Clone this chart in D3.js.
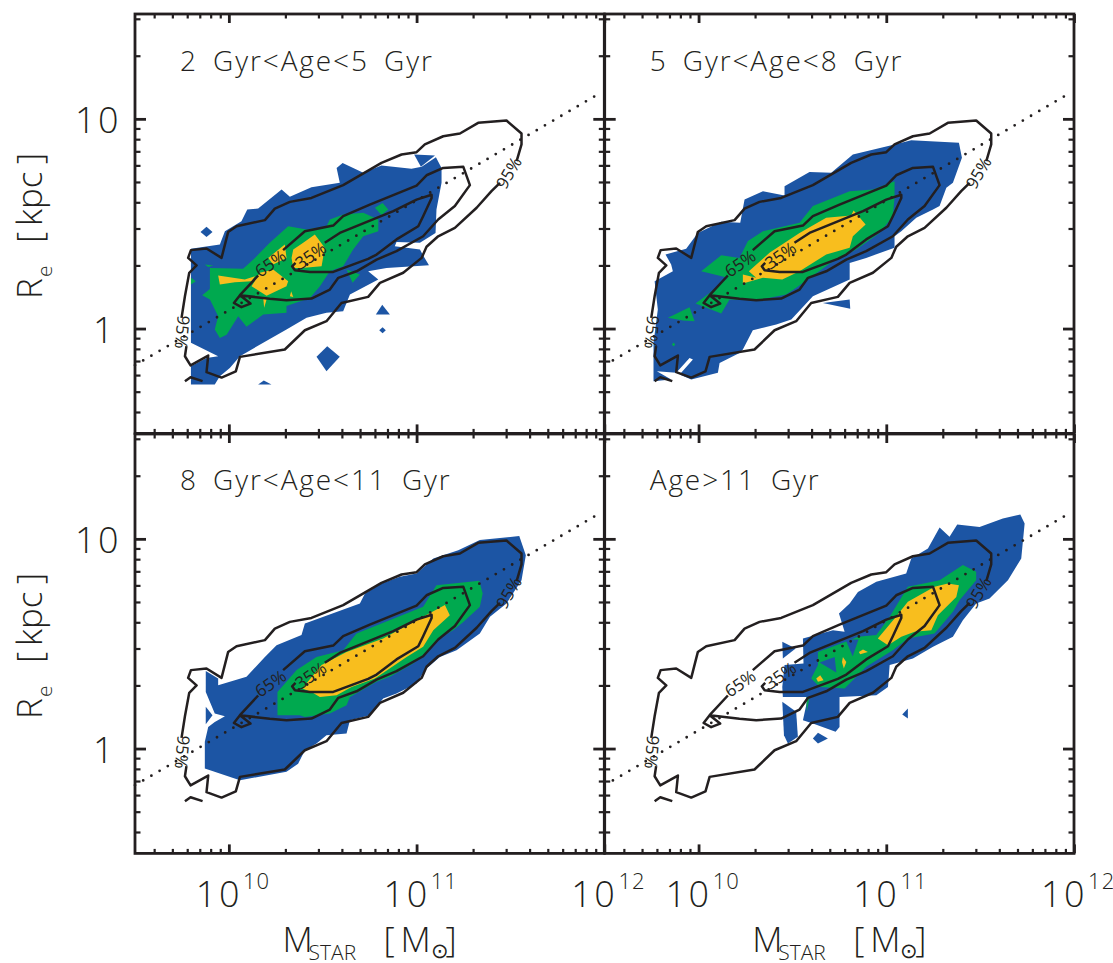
<!DOCTYPE html>
<html>
<head>
<meta charset="utf-8">
<script src="https://cdn.jsdelivr.net/npm/d3@7"></script>
<style>
  body { margin: 0; background: #fff; overflow: hidden; }
  text { font-family: "Open Sans", sans-serif; font-weight: 300; fill: #231f20; }
</style>
</head>
<body>
<script>
// all polygon vertices are [log10 Mstar, log10 Re]
const contour95 = [[9.748,.051],[9.766,.154],[9.789,.266],[9.828,.301],[9.783,.337],[9.798,.374],[9.881,.382],[9.961,.337],[9.996,.460],[10.041,.488],[10.192,.517],[10.245,.572],[10.325,.604],[10.440,.623],[10.609,.684],[10.813,.790],[10.920,.830],[11.000,.841],[11.044,.878],[11.142,.917],[11.231,.930],[11.328,.981],[11.479,.992],[11.559,.930],[11.559,.878],[11.533,.798]];
const contour95b = [[11.444,.695],[11.399,.655],[11.320,.576],[11.204,.480],[11.115,.440],[11.053,.390],[11.027,.337],[10.929,.266],[10.805,.218],[10.742,.151],[10.600,.122],[10.520,.035],[10.405,-.008],[10.298,-.100],[10.059,-.135],[10.037,-.204],[9.961,-.234],[9.881,-.208],[9.890,-.129],[9.796,-.176],[9.766,-.132],[9.774,-.084]];
const contour95tail = [[9.766,-.251],[9.796,-.232],[9.860,-.251]];
const contour65 = [[10.289,.374],[10.405,.464],[10.556,.491],[10.609,.536],[10.751,.591],[11.000,.682],[11.053,.731],[11.142,.766],[11.249,.771],[11.284,.684],[11.204,.584],[11.115,.520],[11.035,.440],[10.893,.369],[10.787,.329],[10.680,.273],[10.583,.242],[10.538,.186],[10.440,.143],[10.307,.135],[10.218,.142],[10.059,.159],[10.115,.119],[10.067,.102],[10.027,.122],[10.059,.159],[10.156,.253]];
const contour35 = [[10.511,.409],[10.591,.456],[10.876,.560],[11.000,.615],[11.080,.638],[11.080,.623],[11.035,.536],[11.009,.488],[10.893,.425],[10.787,.353],[10.742,.332],[10.556,.270],[10.432,.270],[10.352,.278],[10.337,.297],[10.355,.313]];
const contourLabels = ["65%", "35%", "95%", "95%"];
const contourLabelPos = [[10.222,.310],[10.437,.348],[11.492,.743],[9.751,-.017]];
const contourLabelAngle = [-35, -35, -60, 95];

// dotted relation, end points
const relMass = [9.5, 11.97];
const relSize = [-.175, 1.119];

const titles = ["2 Gyr<Age<5 Gyr", "5 Gyr<Age<8 Gyr", "8 Gyr<Age<11 Gyr", "Age>11 Gyr"];

const blue1 = [
  [[9.798,.380],[9.952,.401],[9.979,.464],[10.067,.512],[10.098,.568],[10.156,.572],[10.281,.663],[10.325,.628],[10.440,.674],[10.591,.695],[10.574,.766],[10.606,.790],[10.716,.743],[10.813,.778],[10.973,.762],[11.027,.771],[11.103,.817],[11.133,.766],[11.133,.695],[11.106,.568],[11.101,.456],[11.018,.409],[10.893,.413],[10.884,.393],[11.018,.377],[11.035,.348],[11.066,.302],[10.840,.289],[10.742,.273],[10.796,.234],[10.645,.162],[10.609,.083],[10.520,.075],[10.414,.051],[10.307,-.005],[10.183,-.068],[10.059,-.132],[10.005,-.188],[9.952,-.227],[9.925,-.267],[9.798,-.267],[9.798,-.180],[9.881,-.140],[9.943,-.132],[9.798,-.068]],
  [[10.987,.830],[11.098,.825],[11.023,.771]],
  [[9.849,.461],[9.881,.485],[9.913,.461],[9.881,.436]],
  [[10.783,.067],[10.817,.114],[10.858,.067]],
  [[10.801,-.008],[10.819,.006],[10.836,-.008],[10.819,-.022]],
  [[10.467,-.135],[10.524,-.084],[10.591,-.135],[10.520,-.204]],
  [[10.156,-.267],[10.186,-.248],[10.227,-.267]]
];
const green1 = [
  [[9.858,.159],[9.899,.189],[9.899,.289],[10.076,.285],[10.139,.337],[10.218,.409],[10.316,.488],[10.414,.472],[10.520,.488],[10.538,.520],[10.609,.544],[10.716,.552],[10.796,.520],[10.796,.464],[10.716,.440],[10.662,.377],[10.609,.297],[10.538,.273],[10.485,.202],[10.432,.146],[10.307,.107],[10.307,.075],[10.183,.067],[10.094,.008],[10.050,.059],[9.988,-.029],[9.952,-.045],[9.925,-.005],[9.943,.059],[9.899,.138]],
  [[10.778,.576],[10.819,.599],[10.849,.568],[10.813,.541]],
  [[10.627,.281],[10.698,.258],[10.659,.218]],
  [[9.798,.242],[9.824,.226],[9.798,.210]],
  [[9.872,.305],[9.917,.301],[9.890,.293]]
];
const yellow1 = [
  [[10.121,.202],[10.165,.266],[10.236,.281],[10.316,.226],[10.307,.202],[10.201,.157]],
  [[9.943,.253],[10.085,.234],[10.139,.250],[10.121,.226],[10.032,.221],[9.952,.210]],
  [[10.210,.337],[10.298,.401],[10.307,.337],[10.236,.305]],
  [[10.343,.377],[10.396,.409],[10.458,.448],[10.511,.385],[10.494,.297],[10.387,.289],[10.343,.289],[10.334,.337]],
  [[10.325,.154],[10.343,.151],[10.332,.178]],
  [[10.183,.146],[10.201,.138],[10.188,.099]]
];

const blue2 = [
  [[9.824,.353],[9.934,.380],[9.996,.456],[10.121,.509],[10.222,.504],[10.245,.615],[10.343,.655],[10.458,.634],[10.458,.679],[10.591,.746],[10.707,.743],[10.822,.830],[11.044,.878],[11.133,.898],[11.387,.886],[11.403,.814],[11.355,.695],[11.320,.671],[11.284,.584],[11.249,.568],[11.160,.528],[11.080,.464],[11.044,.440],[11.044,.385],[10.893,.337],[10.805,.313],[10.805,.234],[10.609,.154],[10.494,.043],[10.414,.019],[10.289,-.008],[10.236,-.100],[10.218,-.116],[10.112,-.164],[10.103,-.211],[9.961,-.243],[9.899,-.219],[9.970,-.148],[9.952,-.140],[9.881,-.211],[9.778,-.204],[9.854,-.243],[9.760,-.251],[9.760,-.068],[9.783,.091],[9.766,.226],[9.863,.273],[9.854,.305]],
  [[10.662,.122],[10.805,.138],[10.808,.095]]
];
const green2 = [
  [[10.014,.273],[10.121,.350],[10.218,.337],[10.263,.417],[10.343,.464],[10.538,.504],[10.609,.584],[10.805,.655],[10.929,.663],[11.044,.703],[11.044,.623],[11.035,.536],[10.964,.456],[10.840,.377],[10.716,.321],[10.618,.258],[10.520,.194],[10.467,.162],[10.307,.135],[10.165,.138],[10.121,.072],[9.984,.119],[10.059,.170],[10.156,.242]],
  [[9.837,.051],[9.952,.102],[9.979,.035],[9.917,.038]],
  [[9.858,-.076],[9.867,-.067],[9.876,-.076],[9.867,-.086]]
];
const yellow2 = [
  [[10.268,.273],[10.378,.361],[10.538,.456],[10.680,.528],[10.813,.539],[10.826,.563],[10.890,.496],[10.822,.440],[10.805,.385],[10.680,.353],[10.538,.273],[10.446,.234],[10.343,.242],[10.236,.215],[10.236,.258],[10.307,.242]]
];

const blue3 = [
  [[9.877,.370],[9.943,.334],[9.943,.302],[10.094,.342],[10.192,.437],[10.254,.493],[10.387,.541],[10.405,.596],[10.698,.692],[10.725,.739],[10.813,.787],[10.911,.819],[11.000,.835],[11.089,.906],[11.222,.946],[11.337,.994],[11.547,1.013],[11.582,.922],[11.559,.803],[11.479,.692],[11.391,.628],[11.337,.549],[11.213,.469],[11.124,.437],[11.044,.374],[11.000,.310],[10.893,.262],[10.822,.239],[10.751,.159],[10.645,.135],[10.627,.072],[10.520,.064],[10.467,.024],[10.405,-.008],[10.369,-.072],[10.307,-.111],[10.059,-.151],[9.872,-.095],[9.872,.032],[9.890,.103],[9.925,.127],[9.979,.154],[9.925,.167],[9.877,.270]],
  [[9.877,.199],[9.913,.159],[9.877,.116]]
];
const green3 = [
  [[10.259,.159],[10.259,.270],[10.361,.374],[10.467,.437],[10.609,.469],[10.680,.549],[11.035,.676],[11.106,.779],[11.334,.800],[11.352,.739],[11.337,.676],[11.249,.604],[11.195,.564],[11.115,.525],[11.053,.461],[10.982,.405],[10.858,.342],[10.787,.318],[10.645,.246],[10.627,.207],[10.538,.167],[10.405,.151],[10.378,.159]]
];
const yellow3 = [
  [[10.391,.286],[10.494,.398],[10.627,.461],[10.822,.525],[11.000,.612],[11.151,.684],[11.177,.636],[11.089,.564],[11.035,.485],[10.947,.437],[10.778,.334],[10.654,.294],[10.574,.254],[10.485,.246],[10.440,.270]]
];

const blue4 = [
  [[10.446,.509],[10.517,.477],[10.449,.429]],
  [[10.556,.525],[10.716,.564],[10.778,.557],[10.748,.644],[10.805,.692],[10.849,.747],[10.947,.795],[11.106,.835],[11.133,.906],[11.222,.954],[11.284,1.054],[11.337,1.010],[11.378,1.068],[11.497,1.057],[11.621,1.097],[11.714,1.116],[11.737,1.073],[11.719,.906],[11.648,.803],[11.550,.716],[11.479,.692],[11.408,.612],[11.355,.533],[11.249,.485],[11.142,.429],[11.018,.398],[11.009,.294],[10.947,.254],[10.751,.246],[10.751,.103],[10.730,.080],[10.609,.119],[10.556,.135],[10.583,.246],[10.449,.246],[10.446,.294],[10.458,.398],[10.559,.405]],
  [[10.446,.223],[10.520,.175],[10.529,.056],[10.476,.024],[10.455,.064]],
  [[10.609,.048],[10.636,.075],[10.689,.048],[10.636,.024]],
  [[11.085,.162],[11.115,.191],[11.115,.143]]
];
const green4 = [
  [[10.600,.334],[10.636,.398],[10.636,.461],[10.805,.517],[10.849,.533],[10.947,.541],[11.018,.628],[11.115,.771],[11.284,.803],[11.408,.875],[11.479,.843],[11.479,.803],[11.391,.708],[11.355,.652],[11.257,.549],[11.115,.525],[11.035,.469],[10.893,.390],[10.778,.286],[10.645,.294]],
  [[10.574,.246],[10.591,.246],[10.577,.175]]
];
// patches of the lowest level showing through the green in the oldest bin
const holes4 = [
  [[10.645,.410],[10.725,.437],[10.734,.363]],
  [[10.783,.520],[10.852,.520],[10.821,.440]]
];
const yellow4 = [
  [[10.955,.525],[11.044,.620],[11.115,.700],[11.257,.771],[11.328,.787],[11.387,.779],[11.373,.723],[11.275,.636],[11.240,.564],[11.151,.557],[11.080,.533],[11.009,.493]],
  [[10.627,.334],[10.648,.350],[10.666,.326],[10.636,.318]],
  [[10.769,.437],[10.787,.413],[10.774,.382],[10.764,.413]],
  [[10.854,.461],[10.876,.472],[10.902,.461],[10.861,.450]]
];

const fills = [
  [blue1, green1, yellow1],
  [blue2, green2, yellow2],
  [blue3, green3, yellow3],
  [blue4, green4, holes4, yellow4]
];
const fillColors = [
  ["#1c55a4", "#00a94f", "#f8be1e"],
  ["#1c55a4", "#00a94f", "#f8be1e"],
  ["#1c55a4", "#00a94f", "#f8be1e"],
  ["#1c55a4", "#00a94f", "#1c55a4", "#f8be1e"]
];

const xMajor = [1e10, 1e11, 1e12];
const xMinor = [4e9,5e9,6e9,7e9,8e9,9e9,2e10,3e10,4e10,5e10,6e10,7e10,8e10,9e10,2e11,3e11,4e11,5e11,6e11,7e11,8e11,9e11];
const yMajor = [1, 10];
const yMinor = [.4,.5,.6,.7,.8,.9,2,3,4,5,6,7,8,9,20,30];

const ink = "#231f20";
const panelW = 469.3, panelH = 419.4;
const panelX = [135, 604.7];
const panelY = [14, 434];

const svg = d3.select("body").append("svg")
    .attr("width", 1113)
    .attr("height", 963);

const x = d3.scaleLog().domain([Math.pow(10, 9.5), 1e12]).range([0, panelW]);
const y = d3.scaleLog().domain([Math.pow(10, -.5), Math.pow(10, 1.5)]).range([panelH, 0]);

const toXY = d => [x(Math.pow(10, d[0])), y(Math.pow(10, d[1]))];
const line = d3.line();

titles.forEach((title, i) => {
    const col = i % 2, row = Math.floor(i / 2);
    const g = svg.append("g").attr("transform", `translate(${panelX[col]},${panelY[row]})`);

    // filled density levels
    fills[i].forEach((level, j) => {
        g.append("g").selectAll("path")
            .data(level)
            .enter().append("path")
            .attr("d", d => line(d.map(toXY)) + "Z")
            .attr("fill", fillColors[i][j]);
    });

    // dotted relation
    g.append("path")
        .attr("d", line([[relMass[0], relSize[0]], [relMass[1], relSize[1]]].map(toXY)))
        .attr("fill", "none")
        .attr("stroke", ink)
        .attr("stroke-width", 2.8)
        .attr("stroke-linecap", "round")
        .attr("stroke-dasharray", "0 9.5");

    // reference contours
    g.append("g").selectAll("path")
        .data([contour95, contour95b, contour95tail, contour65, contour35])
        .enter().append("path")
        .attr("d", d => line(d.map(toXY)))
        .attr("fill", "none")
        .attr("stroke", ink)
        .attr("stroke-width", 2.5)
        .attr("stroke-linejoin", "round");

    contourLabels.forEach((label, k) => {
        const p = toXY(contourLabelPos[k]);
        g.append("text")
            .attr("transform", `translate(${p[0]},${p[1]}) rotate(${contourLabelAngle[k]})`)
            .attr("text-anchor", "middle")
            .attr("dy", "0.35em")
            .attr("font-size", 17)
            .style("font-weight", 400)
            .text(label);
    });

    g.append("text")
        .attr("x", 45)
        .attr("y", row === 0 ? 57 : 56)
        .attr("font-size", 28)
        .attr("letter-spacing", 1.9)
        .attr("word-spacing", 6)
        .text(title);

    // ticks on all four sides, frame drawn last
    const bottom = g.append("g").attr("transform", `translate(0,${panelH})`);
    const top = g.append("g");
    const left = g.append("g");
    const right = g.append("g").attr("transform", `translate(${panelW},0)`);
    [[bottom, d3.axisBottom, x, xMinor, -4.5], [bottom, d3.axisBottom, x, xMajor, -9],
     [top, d3.axisTop, x, xMinor, -4.5], [top, d3.axisTop, x, xMajor, -9],
     [left, d3.axisLeft, y, yMinor, -5.5], [left, d3.axisLeft, y, yMajor, -11],
     [right, d3.axisRight, y, yMinor, -5.5], [right, d3.axisRight, y, yMajor, -11]
    ].forEach(t => {
        t[0].append("g")
            .call(t[1](t[2]).tickValues(t[3]).tickSize(t[4]).tickFormat(""))
            .call(a => a.select(".domain").remove())
            .selectAll("line")
            .attr("stroke", ink)
            .attr("stroke-width", t[4] < -7 ? 2.8 : 2.2);
    });

    g.append("rect")
        .attr("width", panelW)
        .attr("height", panelH)
        .attr("fill", "none")
        .attr("stroke", ink)
        .attr("stroke-width", 2.8);

    // tick labels only on the outer edges
    if (row === 1) {
        xMajor.forEach(v => {
            const t = g.append("text")
                .attr("x", x(v) - 33)
                .attr("y", panelH + 54)
                .attr("font-size", 36)
                .attr("letter-spacing", 2.5);
            t.append("tspan").text("10");
            t.append("tspan")
                .attr("dy", -18)
                .attr("dx", 1)
                .attr("font-size", 22)
                .attr("letter-spacing", 1)
                .text(Math.round(Math.log10(v)));
        });
        const x0 = x(1e11);
        const t = g.append("text")
            .attr("y", panelH + 99)
            .attr("font-size", 35);
        t.append("tspan").attr("x", x0 - 134).text("M");
        t.append("tspan").attr("x", x0 - 108).attr("dy", 8).attr("font-size", 21).text("STAR");
        t.append("tspan").attr("x", x0 - 33).attr("dy", -8).text("[");
        t.append("tspan").attr("x", x0 - 16).text("M");
        t.append("tspan").attr("x", x0 + 14).attr("dy", 6).attr("font-size", 21).text("⊙");
        t.append("tspan").attr("x", x0 + 29).attr("dy", -6).text("]");
    }
    if (col === 0) {
        yMajor.forEach(v => {
            g.append("text")
                .attr("x", v === 1 ? -19 : -14)
                .attr("y", y(v) + 14)
                .attr("text-anchor", "end")
                .attr("font-size", 36)
                .attr("letter-spacing", 2.5)
                .text(v);
        });
        const t = g.append("text")
            .attr("transform", `translate(-93,285) rotate(-90)`)
            .attr("font-size", 35);
        t.append("tspan").attr("x", 0).text("R");
        t.append("tspan").attr("x", 22).attr("dy", 10).attr("font-size", 21).text("e");
        t.append("tspan").attr("x", 56).attr("dy", -10).text("[");
        t.append("tspan").attr("x", 73).text("kpc");
        t.append("tspan").attr("x", 135).text("]");
    }
});
</script>
</body>
</html>
